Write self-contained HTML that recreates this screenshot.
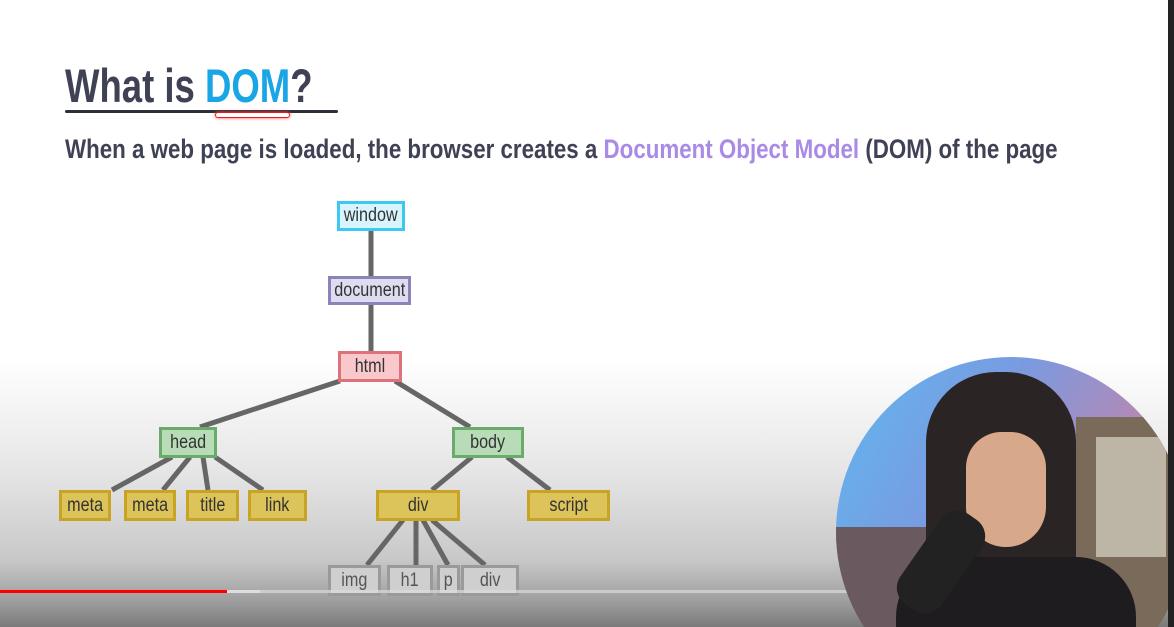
<!DOCTYPE html>
<html style="overflow:hidden"><head><meta charset="utf-8"><style>
body{margin:0;width:1174px;height:627px;overflow:hidden;position:relative;font-family:"Liberation Sans",sans-serif;
background:linear-gradient(to bottom,#fff 0,#fff 360px,#e6e6e6 470px,#c8c8c8 560px,#a0a0a0 600px,#7a7a7a 627px);}
.t{position:absolute;left:65px;top:58px;font-size:47px;font-weight:bold;color:#3f4155;white-space:nowrap;transform:scaleX(0.777);transform-origin:0 0}
.s{position:absolute;left:65px;top:134px;font-size:27px;font-weight:bold;color:#3f4155;white-space:nowrap;transform:scaleX(0.827);transform-origin:0 0}
.n{position:absolute;box-sizing:border-box;border:3px solid;display:flex;align-items:center;justify-content:center;font-size:19px;color:#333;overflow:hidden}
.n span{display:inline-block;transform:scaleX(0.85)}
.y{border-color:#c9a424;background:#dcc35a}
.g{border-color:#9a9a9a;background:#cfcfcf;color:#555}
.gr{border-color:#6aaa6a;background:#b8dcb8}
</style></head><body>
<div class="t">What is <span style="color:#1aa6e4">DOM</span>?</div>
<div style="position:absolute;left:65px;top:110px;width:273px;height:3px;background:#2d2f3a;border-radius:2px"></div>
<div style="position:absolute;left:215px;top:112px;width:73px;height:4px;border:1.5px solid #e02020;border-radius:3px;box-shadow:0 0 3px #f44"></div>
<div class="s">When a web page is loaded, the browser creates a <span style="color:#a98ae6">Document Object Model</span> (DOM) of the page</div>
<svg width="1174" height="627" style="position:absolute;left:0;top:0" stroke="#666" stroke-width="5">
<line x1="371" y1="230" x2="371" y2="276"/><line x1="371" y1="304" x2="371" y2="351"/>
<line x1="340" y1="381" x2="200" y2="427"/><line x1="395" y1="381" x2="470" y2="427"/>
<line x1="172" y1="457" x2="112" y2="490"/><line x1="190" y1="457" x2="163" y2="490"/>
<line x1="203" y1="457" x2="208" y2="490"/><line x1="215" y1="457" x2="263" y2="490"/>
<line x1="472" y1="457" x2="432" y2="490"/><line x1="507" y1="457" x2="550" y2="490"/>
<line x1="403" y1="520" x2="367" y2="565"/><line x1="416" y1="520" x2="416" y2="565"/>
<line x1="423" y1="520" x2="448" y2="565"/><line x1="432" y1="520" x2="485" y2="565"/>
</svg>
<div class="n" style="left:337px;top:201px;width:68px;height:30px;border-color:#3cc8f0;background:#d8f4fc"><span>window</span></div>
<div class="n" style="left:328px;top:276px;width:83px;height:29px;border-color:#8a84b8;background:#dedcf0"><span>document</span></div>
<div class="n" style="left:338px;top:351px;width:64px;height:31px;border-color:#e0707a;background:#f8c8cc"><span>html</span></div>
<div class="n gr" style="left:159px;top:427px;width:58px;height:31px"><span>head</span></div>
<div class="n gr" style="left:452px;top:427px;width:72px;height:31px"><span>body</span></div>
<div class="n y" style="left:59px;top:490px;width:52px;height:31px"><span>meta</span></div>
<div class="n y" style="left:124px;top:490px;width:52px;height:31px"><span>meta</span></div>
<div class="n y" style="left:186px;top:490px;width:53px;height:31px"><span>title</span></div>
<div class="n y" style="left:248px;top:490px;width:59px;height:31px"><span>link</span></div>
<div class="n y" style="left:376px;top:490px;width:84px;height:31px"><span>div</span></div>
<div class="n y" style="left:527px;top:490px;width:83px;height:31px"><span>script</span></div>
<div class="n g" style="left:328px;top:565px;width:53px;height:31px"><span>img</span></div>
<div class="n g" style="left:387px;top:565px;width:46px;height:31px"><span>h1</span></div>
<div class="n g" style="left:437px;top:565px;width:23px;height:31px"><span>p</span></div>
<div class="n g" style="left:461px;top:565px;width:58px;height:31px"><span>div</span></div>
<div style="position:absolute;left:0;top:590px;width:1174px;height:3px;background:rgba(220,220,220,.7)"></div>
<div style="position:absolute;left:0;top:590px;width:260px;height:3px;background:#ddd"></div>
<div style="position:absolute;left:0;top:590px;width:227px;height:3px;background:#f00"></div>
<div style="position:absolute;left:836px;top:357px;width:332px;height:270px;overflow:hidden">
<div style="position:absolute;left:0;top:0;width:350px;height:350px;border-radius:50%;overflow:hidden;background:linear-gradient(120deg,#5fb8f0 0%,#7a9ae0 35%,#b08ab8 60%,#c08a78 85%)">
<div style="position:absolute;left:240px;top:60px;width:120px;height:220px;background:#7a6a5a"></div>
<div style="position:absolute;left:260px;top:80px;width:70px;height:120px;background:#bdb6a6"></div>
<div style="position:absolute;left:0;top:170px;width:90px;height:180px;background:#6a5a60"></div>
<div style="position:absolute;left:90px;top:15px;width:150px;height:255px;background:#2a2424;border-radius:70px 70px 20px 20px"></div>
<div style="position:absolute;left:130px;top:75px;width:80px;height:115px;background:#d8a88a;border-radius:40px 40px 45px 45px"></div>
<div style="position:absolute;left:60px;top:200px;width:240px;height:150px;background:#1e1c1e;border-radius:60px 60px 0 0"></div>
<div style="position:absolute;left:80px;top:150px;width:50px;height:110px;background:#222;border-radius:20px;transform:rotate(35deg)"></div>
</div></div>
<div style="position:absolute;left:1168px;top:0;width:6px;height:627px;background:#222"></div>
</body></html>
